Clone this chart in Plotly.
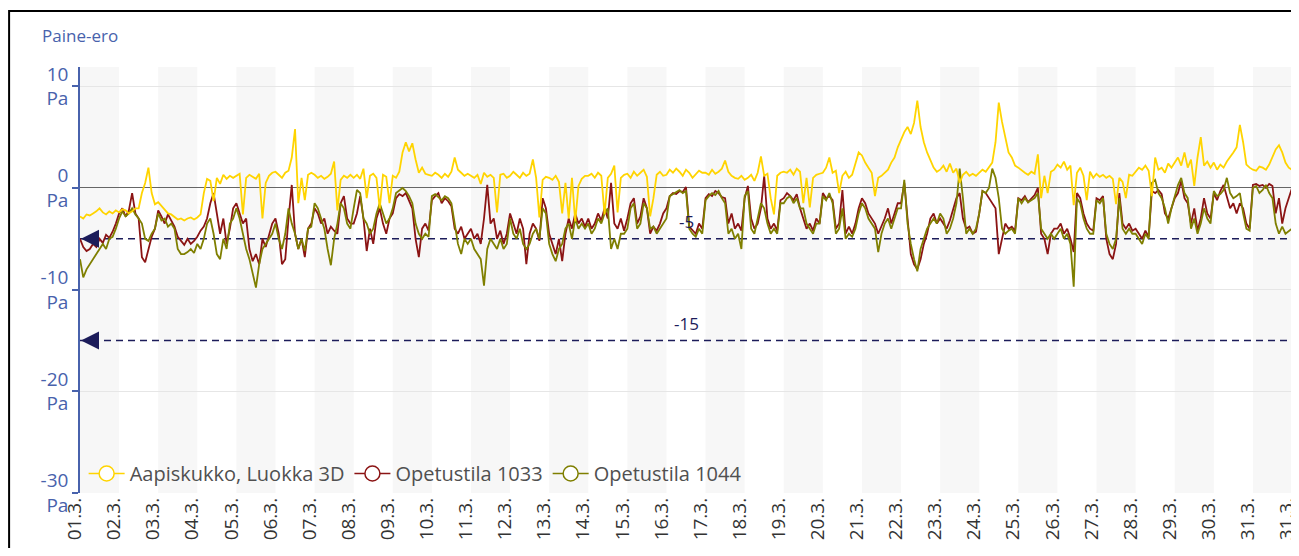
import pandas as pd
import plotly.graph_objects as go

# ---------------- data (2-hour samples, 01.03 00:00 .. 01.04 00:00) ----------------
start = "2024-03-01 00:00"
end = "2024-04-01 00:00"
times = pd.date_range(start, end, freq="2h")

# one row per day (12 readings), final value = 01.04 00:00
aapiskukko = [
    -2.8, -3.0, -2.6, -2.7, -2.5, -2.3, -2.0, -2.4, -2.6, -2.3, -2.5, -2.2,
    -2.4, -2.1, -2.2, -2.5, -2.3, -2.0, -2.0, -0.5, 0.5, 2.0, -0.5, -1.6,
    -1.4, -1.8, -2.2, -2.5, -2.6, -2.9, -3.1, -3.0, -3.2, -3.0, -2.9, -3.1,
    -2.9, -2.6, -0.5, 0.9, 0.7, -1.3, 1.0, 0.4, 1.3, 0.9, 1.2, 1.0,
    1.2, 1.4, -2.6, 1.0, 1.3, 1.1, 0.9, 1.4, -3.0, 0.5, 1.2, 1.5,
    1.6, 1.3, 1.0, 1.5, 1.7, 3.0, 5.8, -1.5, 1.0, -1.2, 1.3, 1.5,
    1.3, 1.0, 1.2, 0.9, 1.1, 1.4, 2.6, -2.2, 0.8, 1.2, 1.0, 1.3,
    1.0, 1.3, 0.9, 1.9, -1.0, 1.2, 1.4, 1.0, -2.0, 1.3, 1.1, -1.5,
    1.2, 1.0, 1.6, 3.5, 4.5, 3.6, 4.4, 2.8, 1.5, 2.0, 1.4, 1.3,
    1.2, 1.5, 1.3, 1.0, 1.4, 1.1, 1.6, 3.0, 1.8, 1.5, 1.2, 1.4,
    1.2, 1.0, 1.3, 0.4, 1.5, 1.1, 1.3, 1.0, -2.4, 1.3, 1.4, 1.0,
    1.2, 1.6, 1.3, 1.0, 1.5, 1.2, 1.4, 2.8, 1.0, -2.9, 0.8, 1.1,
    1.0, 0.8, 1.2, 0.6, -2.5, 0.5, -3.0, 1.0, -3.3, 0.2, 0.9, 1.2,
    1.2, 1.4, 1.0, 1.5, 1.2, -2.6, 1.0, 1.4, 2.2, -2.4, 1.0, 1.3,
    1.4, 1.0, 1.6, 1.2, 1.5, 1.8, 1.1, -2.8, -1.0, 1.3, 1.6, 1.2,
    1.3, 1.8, 1.5, 1.9, 1.6, 1.2, 1.8, 1.5, 1.0, 1.4, 1.7, 1.5,
    1.5, 1.3, 1.8, 1.4, 1.6, 1.9, 2.7, 1.6, 1.2, 1.0, 0.9, 1.2,
    0.8, 1.0, 1.3, 0.7, 1.5, 3.1, 1.2, 1.4, -1.0, -2.6, 1.2, 1.5,
    1.6, 1.5, 1.8, 1.3, 1.9, 1.6, -1.5, 1.0, -1.9, 1.0, 1.3, 1.4,
    1.5, 2.0, 3.0, 1.5, 1.7, -0.5, 1.2, 1.6, 1.0, 1.3, 2.5, 3.5,
    3.2, 2.5, 2.0, 1.5, -0.8, 1.0, 1.2, 1.5, 1.8, 2.5, 3.0, 4.0,
    4.8, 5.5, 6.0, 5.3, 6.4, 8.6, 6.0, 4.5, 3.5, 2.8, 2.0, 1.6,
    1.8, 2.2, 1.6, 2.4, 1.5, 1.9, 0.5, 1.3, 1.6, 1.2, 1.4, 1.2,
    1.5, 1.8, 1.6, 2.0, 2.5, 4.5, 8.4, 6.5, 5.0, 3.5, 3.0, 2.2,
    2.0, 1.7, 1.5, 1.3, 1.6, 1.4, 3.3, -1.0, 1.2, -0.5, 1.6, 1.8,
    2.3, 2.0, 2.6, 1.8, 2.2, -1.7, 1.5, 2.0, 1.2, -1.2, 1.6, 1.0,
    1.4, 1.1, 1.3, 1.0, 1.2, 0.9, -1.6, 1.0, 0.6, -1.0, 1.3, 1.2,
    1.6, 2.0, 1.8, 2.2, 1.7, -0.8, 3.0, 1.8, 2.0, 1.5, 2.4, 2.0,
    2.5, 3.0, 2.2, 3.5, 2.0, 2.8, 0.2, 3.0, 5.0, 2.2, 2.6, 2.0,
    2.5, 1.8, 2.3, 2.0, 2.6, 3.0, 3.5, 4.0, 6.2, 4.5, 2.3, 2.0,
    1.8, 1.7, 2.1, 2.0, 1.8, 2.3, 3.0, 3.8, 4.2, 3.5, 2.5, 2.0,
    1.8,
]

opetustila_1033 = [
    -5.0, -5.8, -6.2, -6.0, -5.5, -5.8, -5.0, -5.4, -4.6, -4.9, -4.3, -3.5,
    -2.5, -2.0, -2.8, -2.2, -0.5, -2.5, -3.0, -6.8, -7.3, -6.0, -4.8, -4.0,
    -2.2, -2.8, -3.5, -2.6, -3.2, -3.8, -4.8, -5.2, -5.6, -5.0, -5.5, -5.2,
    -4.8, -4.2, -3.8, -3.0, -1.5, -0.5, -2.5, -4.5, -3.0, -5.5, -4.0, -2.0,
    -1.5, -2.5, -3.5, -3.0, -6.0, -7.2, -6.5, -7.5, -5.0, -5.8, -4.5, -3.5,
    -3.0, -4.5, -7.5, -7.0, -3.0, 0.3, -4.5, -6.0, -5.0, -6.8, -4.0, -3.5,
    -2.0, -2.5, -3.5, -3.0, -4.5, -3.8, -4.2, -4.5, -1.5, -0.8, -3.0, -3.5,
    -3.5, -2.5, -0.8, -3.0, -6.2, -4.0, -5.5, -3.0, -2.0, -3.5, -4.5, -3.0,
    -2.5, -1.0, -0.6, -0.8, -0.5, -1.2, -2.0, -5.0, -6.8, -4.0, -3.5, -4.2,
    -1.2, -0.8, -0.5, -1.5, -1.0, -1.3, -1.8, -4.0, -4.5, -3.8, -5.0, -4.5,
    -4.0, -5.0, -4.5, -5.5, -3.0, 0.3, -3.5, -3.0, -5.0, -4.2, -5.5, -4.5,
    -2.5, -3.5, -4.5, -3.0, -4.0, -7.5, -4.5, -3.5, -4.0, -5.2, -1.0, -2.0,
    -4.5, -5.5, -6.5, -5.0, -7.2, -4.5, -3.0, -4.0, -2.5, -3.5, -3.0, -3.8,
    -3.0, -4.0, -3.5, -2.5, -3.2, -2.0, -3.0, 0.5, -3.5, -4.0, -3.0, -4.2,
    -3.0, -1.5, -1.0, -3.5, -2.8, -1.0, -2.0, -4.5, -3.8, -4.2, -3.5, -2.5,
    -2.0, -0.8, -0.5, -0.6, -0.3, -0.4, 0.1, -3.8, -4.2, -4.5, -3.5, -4.0,
    -1.0, -0.6, -0.8, -0.3, -0.5, -0.9, -1.0, -3.5, -2.5, -4.0, -3.5, -4.2,
    -1.0, 0.2, -3.0, -4.0, -3.5, -2.0, 1.2, -3.0, -4.0, -3.5, -4.2, -1.2,
    -1.0, -0.5, -0.8, -1.2, -0.6, -2.0, -3.0, -4.0, -3.5, -4.2, -3.0, -3.5,
    -0.5, -1.0, -0.8, -1.2, -4.0, -3.5, -0.2, -4.5, -3.8, -4.5, -3.5, -2.0,
    -1.0, -1.5, -2.5, -3.0, -3.5, -4.5, -3.8, -3.0, -2.0, -3.5, -2.5, -1.5,
    -1.5, 0.5, -3.0, -6.5, -7.5, -8.0, -7.0, -5.5, -4.5, -3.0, -2.5, -3.5,
    -3.0, -3.5, -4.0, -3.2, -2.0, -1.0, -0.5, -3.0, -4.0, -3.8, -4.5, -4.3,
    -2.5, -0.3, -0.5, -1.0, -1.5, -2.0, -6.5, -5.0, -3.5, -4.0, -3.8, -4.2,
    -1.0, -1.2, -0.8, -1.4, -1.0, -0.7, 0.0, -4.5, -5.0, -6.5, -4.5, -4.0,
    -4.0, -3.5, -4.5, -4.0, -5.0, -6.3, -0.5, -1.0, -2.5, -3.5, -4.0, -4.2,
    -1.0, -1.2, -0.8, -5.0, -6.5, -7.0, -5.5, -0.5, -3.5, -4.0, -3.5, -4.2,
    -4.0, -4.5, -5.0, -4.2, -4.8, -0.3, -0.5, -0.2, -0.6, -2.5, -3.0, -2.0,
    -1.0, -0.5, 0.7, -1.0, -1.5, -3.5, -2.0, -4.2, -3.0, -1.0, -2.5, -3.0,
    -0.5, -1.2, -0.3, 0.3, -1.0, -2.0, -1.5, -2.5, -1.5, -2.0, -3.5, -4.0,
    0.3, 0.4, 0.2, 0.3, 0.0, 0.4, 0.2, -2.5, -1.0, -3.5, -2.0, -1.0,
    0.0,
]

opetustila_1044 = [
    -7.0, -8.8, -8.0, -7.5, -7.0, -6.5, -6.0, -5.5, -6.0, -5.0, -4.8, -4.0,
    -3.0, -2.3, -2.8, -2.5, -2.0, -2.6, -3.0, -3.5, -5.0, -5.2, -4.5, -4.0,
    -2.5, -3.2, -3.0, -3.8, -3.5, -4.0, -6.0, -6.5, -6.5, -6.3, -6.0, -6.4,
    -5.5, -6.0, -5.0, -3.5, -3.0, -4.5, -6.5, -7.0, -5.0, -6.0, -3.5, -3.0,
    -2.0, -3.0, -4.5, -6.0, -7.0, -8.5, -9.8, -7.5, -6.0, -5.5, -5.0, -4.5,
    -3.5, -5.0, -6.0, -4.5, -2.0, -3.5, -4.5, -6.0, -5.0, -6.2, -4.0, -3.8,
    -1.5, -2.0, -3.0, -4.0, -6.0, -7.6, -5.0, -3.5, -1.5, -2.0, -3.5, -4.0,
    -2.0, -0.2, -0.5, -3.0, -3.5, -4.5, -4.0, -2.5, -1.5, -2.5, -3.5, -3.0,
    -2.0, -0.5, -0.2, 0.0, -0.3, -0.8, -1.5, -3.5, -4.5, -5.0, -4.5, -4.8,
    -0.8, -0.6, -0.9, -1.2, -0.8, -1.0, -1.5, -3.5, -5.5, -6.5, -5.0, -5.5,
    -5.0, -6.0, -6.5, -7.0, -9.6, -6.0, -5.0, -5.5, -6.0, -5.0, -6.0, -5.5,
    -3.0, -4.5, -5.0, -4.0, -5.5, -6.0, -5.5, -4.5, -4.0, -5.0, -2.0, -2.5,
    -5.5, -6.5, -7.2, -6.0, -5.5, -4.0, -3.5, -5.0, -3.0, -4.0, -3.5, -4.0,
    -3.5, -4.5, -4.0, -3.0, -3.5, -2.5, -2.0, -6.0, -5.0, -6.0, -4.5, -4.5,
    -4.0, -2.0, -1.5, -4.0, -3.5, -1.5, -2.0, -4.0, -3.8, -4.5, -4.0, -3.5,
    -3.0, -0.8, -0.6, -0.4, -0.2, -0.5, -0.3, -4.0, -4.5, -4.8, -4.0, -4.5,
    -1.2, -0.8, -0.5, -0.7, -0.3, -1.0, -1.5, -4.5, -4.0, -5.0, -4.5, -6.0,
    -0.8, -0.3, -4.0, -4.5, -3.0, -1.5, -2.0, -3.5, -4.5, -4.0, -4.5, -1.5,
    -1.5, -1.0, -0.8, -1.5, -1.0, -2.0, -2.0, -3.5, -4.0, -4.5, -3.5, -3.5,
    -0.8, -1.2, -0.5, -1.5, -4.5, -4.0, -2.0, -5.0, -4.5, -4.8, -4.0, -2.5,
    -1.5, -2.0, -3.0, -3.5, -4.0, -6.3, -4.5, -3.5, -3.0, -4.0, -3.0, -2.0,
    -2.0, 0.8, -3.5, -5.5, -7.0, -8.2, -6.0, -5.0, -4.0, -3.5, -3.0, -3.5,
    -2.5, -3.0, -4.5, -4.0, -3.0, -1.5, 1.9, -1.0, -4.5, -4.0, -4.5, -4.0,
    -2.5, -0.3, -0.5, 0.0, 1.9, 1.0, -1.0, -4.0, -4.5, -4.2, -4.0, -4.5,
    -1.0, -1.5, -1.0, -1.4, -1.2, -1.0, -0.5, -4.0, -4.5, -5.0, -4.5, -5.0,
    -4.5, -4.0, -5.0, -4.5, -5.5, -9.7, -1.0, -1.5, -3.0, -4.0, -4.5, -4.5,
    -1.2, -1.5, -1.0, -4.5, -5.5, -6.0, -5.0, -1.0, -4.0, -4.5, -4.0, -4.5,
    -4.5, -5.0, -5.5, -4.5, -5.0, 0.5, 0.8, -0.5, -1.0, -2.0, -3.5, -2.0,
    -0.8, 0.3, 1.0, -0.5, -1.0, -4.0, -3.0, -4.5, -3.5, -2.0, -3.0, -3.5,
    -0.3, -0.8, -0.6, -0.2, 1.0, -0.5, -1.0, -0.8, -0.5, -2.5, -4.0, -4.2,
    0.0, 0.2, -0.5, -0.2, 0.3, -0.5, -1.0, -3.5, -4.5, -3.8, -4.5, -4.2,
    -4.0,
]

series_names = ["Aapiskukko, Luokka 3D", "Opetustila 1033", "Opetustila 1044"]
series_colors = ["#FFD400", "#8B1414", "#7F7F00"]

thresholds = [-5, -15]
threshold_labels = ["-5", "-15"]

y_tickvals = [10, 0, -10, -20, -30]
y_ticktext = ["10<br>Pa", "0<br>Pa", "-10<br>Pa", "-20<br>Pa", "-30<br>Pa"]

day_starts = pd.date_range(start, periods=31, freq="D")
x_tickvals = list(day_starts) + [pd.Timestamp(end)]
x_ticktext = [f"{d.day:02d}.3." for d in day_starts] + ["31.3."]

title_text = "Paine-ero"

for arr in (aapiskukko, opetustila_1033, opetustila_1044):
    assert len(arr) == len(times), (len(arr), len(times))

# ---------------- figure ----------------
BLUE = "#4862AC"
NAVY = "#1C1C5A"
FONT = "Open Sans"

fig = go.Figure()

t0, t1 = pd.Timestamp(start), pd.Timestamp(end)
mid = t0 + (t1 - t0) / 2

# threshold dashed lines
for t in thresholds:
    fig.add_trace(go.Scatter(
        x=[t0, t1], y=[t, t], mode="lines",
        line=dict(color=NAVY, width=1.6, dash="7px,5px"),
        showlegend=False, hoverinfo="skip"))

data = {
    series_names[0]: aapiskukko,
    series_names[1]: opetustila_1033,
    series_names[2]: opetustila_1044,
}
draw_order = [1, 2, 0]
for i in draw_order:
    name = series_names[i]
    fig.add_trace(go.Scatter(
        x=times, y=data[name], mode="lines", name=name,
        line=dict(color=series_colors[i], width=1.8),
        showlegend=False))

# legend entries
for i, name in enumerate(series_names):
    fig.add_trace(go.Scatter(
        x=[None], y=[None], mode="lines+markers", name=name,
        line=dict(color=series_colors[i], width=1.5),
        marker=dict(symbol="circle", size=15, color="white",
                    line=dict(color=series_colors[i], width=1.5))))

# alternating day bands
for k, d in enumerate(day_starts):
    if k % 2 == 0:
        fig.add_shape(type="rect", xref="x", yref="paper",
                      x0=d, x1=d + pd.Timedelta(days=1), y0=0, y1=1,
                      fillcolor="#F7F7F7", line=dict(width=0), layer="below")

# threshold labels and arrowheads
for t, lab in zip(thresholds, threshold_labels):
    fig.add_annotation(x=mid, y=t, xref="x", yref="y", text=lab,
                       showarrow=False, yshift=17,
                       font=dict(family=FONT, size=17, color=NAVY))
    fig.add_annotation(x=t0, y=t, xref="x", yref="y",
                       text="", showarrow=True, ax=20, ay=0,
                       arrowhead=2, arrowsize=2.0, arrowwidth=1.8,
                       arrowcolor=NAVY, standoff=1)

# title
fig.add_annotation(text=title_text, xref="paper", yref="paper",
                   x=-0.033, y=1.075, xanchor="left", yanchor="middle",
                   showarrow=False, font=dict(family=FONT, size=17, color=BLUE))

# outer frame
fig.add_shape(type="rect", xref="paper", yref="paper",
              x0=-0.0585, x1=1.0033, y0=-0.2, y1=1.1315,
              line=dict(color="black", width=2), layer="above")

fig.update_layout(
    width=1291, height=540,
    margin=dict(l=72, r=7, t=59, b=55, autoexpand=False),
    paper_bgcolor="white", plot_bgcolor="white",
    font=dict(family=FONT),
    legend=dict(orientation="h", x=0.003, y=0.0, xanchor="left", yanchor="bottom",
                bgcolor="rgba(0,0,0,0)", font=dict(family=FONT, size=20, color="#505050"),
                itemwidth=36, tracegroupgap=0),
    hovermode=False,
)

fig.update_xaxes(
    type="date", range=[t0, t1],
    tickmode="array", tickvals=x_tickvals, ticktext=x_ticktext,
    tickangle=-90, tickfont=dict(family=FONT, size=19, color="#333333"),
    ticklabeloverflow="allow", ticklabelshift=-5,
    showgrid=False, zeroline=False, showline=False, ticks="",
)

fig.update_yaxes(
    range=[-30, 11.9], tickmode="array", tickvals=y_tickvals, ticktext=y_ticktext,
    tickfont=dict(family=FONT, size=19, color=BLUE),
    showgrid=True, gridcolor="#E6E6E6", gridwidth=1,
    zeroline=True, zerolinecolor="#666666", zerolinewidth=1.2,
    showline=True, linecolor=BLUE, linewidth=1.5,
    ticks="outside", ticklen=6, tickcolor=BLUE, tickwidth=1.5,
)

fig.write_html("out.html")
